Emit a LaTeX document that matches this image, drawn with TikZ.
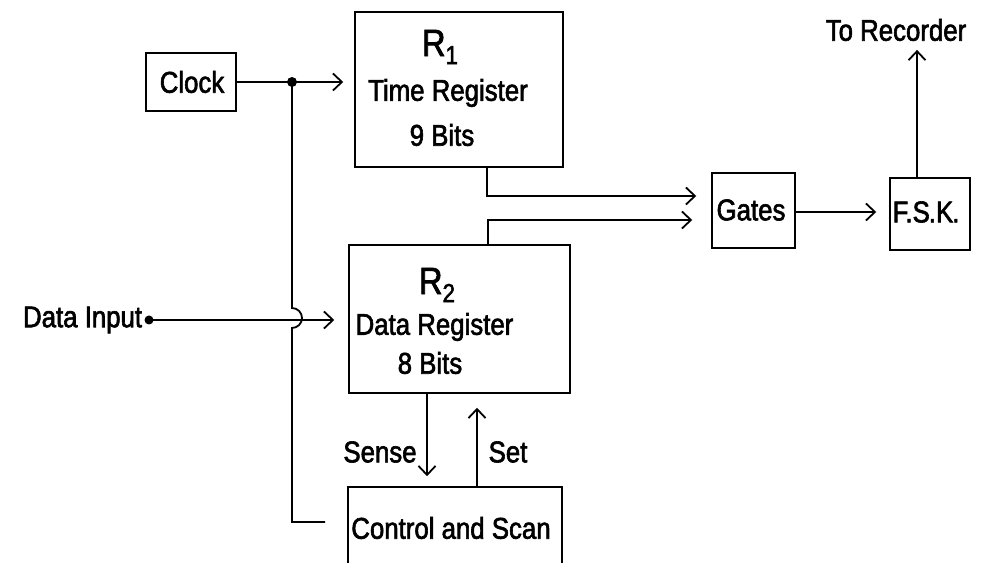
\documentclass[tikz,border=0pt]{standalone}
\usepackage{fontspec}
\setmainfont[FakeStretch=0.86,FakeBold=2]{Liberation Sans}
\usetikzlibrary{arrows.meta,calc}
\begin{document}
\begin{tikzpicture}[x=1pt,y=1pt,
  line width=1.8pt,
  box/.style={draw,line width=1.5pt,inner sep=0pt},
  lbl/.style={inner sep=0pt,font=\fontsize{30}{34}\selectfont},
  big/.style={inner sep=0pt,font=\fontsize{38}{42}\selectfont},
  arr/.style={-{Straight Barb[length=9pt,width=17pt,line width=1.8pt]}},
  dotc/.style={circle,fill,inner sep=0pt,minimum size=10pt}]
\clip (0,0) rectangle (981,562);
\fill[white] (0,0) rectangle (981,562);
% boxes
\node[box,minimum width=90pt,minimum height=58pt] (clock) at (191,480) {};
\node[box,minimum width=208pt,minimum height=155pt] (r1) at (459,472.5) {};
\node[box,minimum width=221pt,minimum height=148pt] (r2) at (459.5,243) {};
\node[box,minimum width=83pt,minimum height=75pt] (gates) at (753.5,351.5) {};
\node[box,minimum width=80pt,minimum height=72pt] (fsk) at (930,348) {};
\node[box,minimum width=214pt,minimum height=95pt] (ctrl) at (455,27.5) {};
% texts
\node[lbl] (tclock) at (192,480) {Clock};
\node[big] (tr1) at (440,515) {R\raisebox{-8pt}{\fontsize{26}{30}\selectfont 1}};
\node[lbl] (tr1a) at (448,469) {Time Register};
\node[lbl] (tr1b) at (442,427) {9 Bits};
\node[big] (tr2) at (437,277) {R\raisebox{-8pt}{\fontsize{26}{30}\selectfont 2}};
\node[lbl] (tr2a) at (434.5,235) {Data Register};
\node[lbl] (tr2b) at (430,199) {8 Bits};
\node[lbl] (tgates) at (751,352) {Gates};
\node[lbl] (tfsk) at (926,350) {F\kern-3pt.S\kern-1pt.K\kern-1pt.};
\node[lbl] (trec) at (896,532) {To Recorder};
\node[lbl] (tsense) at (380,110) {Sense};
\node[lbl] (tset) at (508,110) {Set};
\node[lbl] (tctrl) at (451,34) {Control and Scan};
\node[lbl,anchor=east] (tdata) at (143,242) {Data Input};
% connectors
\coordinate (jc) at (292,480);
\coordinate (din) at (149,242);
\coordinate (cend) at (325,40);
\draw[arr,shorten >=11pt] (clock.east) -- (r1.west |- clock.east);
\node[dotc] (jdot) at (jc) {};
\draw (jc) -- (292,254) arc (90:-90:10) -- (292,40) -- (cend);
\node[dotc,minimum size=9pt] (ddot) at (din) {};
\draw[arr,shorten >=14pt] (din) -- (r2.west |- din);
\draw[arr,shorten >=15pt] (r1.south -| 487,0) -- (487,366) -- (gates.west |- 0,366);
\draw[arr,shorten >=19pt] (r2.north -| 488,0) -- (488,342) -- (gates.west |- 0,342);
\draw[arr,shorten >=13pt] (gates.east |- 0,350) -- (fsk.west |- 0,350);
\draw[arr,shorten >=8pt] (fsk.north -| 917,0) -- (trec.south -| 917,0);
\draw[arr,shorten >=10pt] (r2.south -| 427,0) -- (ctrl.north -| 427,0);
\draw[arr,shorten >=14pt] (ctrl.north -| 477,0) -- (r2.south -| 477,0);
\end{tikzpicture}
\end{document}
